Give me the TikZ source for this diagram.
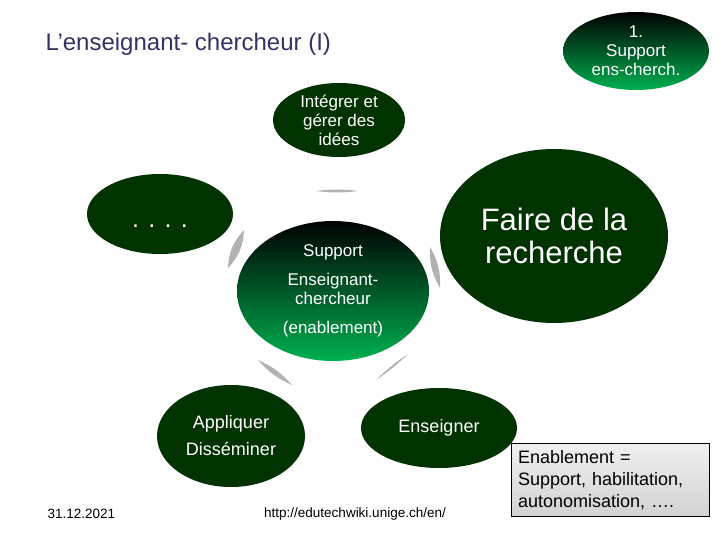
\documentclass[tikz,border=0pt]{standalone}
\usepackage{fontspec}
\setmainfont{Liberation Sans}
\usetikzlibrary{shapes.geometric}
\definecolor{darkleaf}{RGB}{0,51,0}
\definecolor{brightleaf}{RGB}{0,176,80}
\definecolor{titleblue}{RGB}{51,51,102}

\begin{document}
\begin{tikzpicture}[
  x=1pt, y=-1pt,
  blob/.style={ellipse, inner sep=0pt, align=center, text=white, font=\fontsize{17}{19}\selectfont},
  dark/.style={blob, fill=darkleaf},
  glow/.style={blob, top color=black, bottom color=brightleaf},
  conn/.style={fill=gray!60, draw=none}
]
\useasboundingbox (0,0) rectangle (720,540);

\node[anchor=west, text=titleblue, font=\fontsize{24}{28}\selectfont] (title) at (42,44) {L’enseignant- chercheur (I)};
\node[glow, minimum width=146pt, minimum height=78pt] (ensch) at (636,51) {1.\\Support\\ens-cherch.};

\node[dark, minimum width=132pt, minimum height=74pt] (idees) at (339,120) {Intégrer et\\gérer des\\idées};
\node[dark, minimum width=146pt, minimum height=80pt, text height=28pt, text depth=0pt, font=\fontsize{25}{30}\selectfont] (dots) at (160,214) {. . . .};
\node[dark, minimum width=228pt, minimum height=174pt, font=\fontsize{31}{33}\selectfont] (recherche) at (554,236) {Faire de la\\recherche};
\node[glow, minimum width=192pt, minimum height=140pt] (support) at (333,291) {Support\\[10pt]Enseignant-\\chercheur\\[10pt](enablement)};
\node[dark, minimum width=148pt, minimum height=102pt, font=\fontsize{18}{27}\selectfont] (appliquer) at (231,436) {Appliquer\\Disséminer};
\node[dark, minimum width=156pt, minimum height=80pt, font=\fontsize{18}{22}\selectfont] (enseigner) at (439,428) {Enseigner};

% gray connectors round the centre
\coordinate (t1) at (316,191); \coordinate (t2) at (358,191);
\coordinate (l1) at (244,230); \coordinate (l2) at (228,268);
\coordinate (r1) at (430,247); \coordinate (r2) at (440,288);
\coordinate (ll1) at (258,360); \coordinate (ll2) at (292,385);
\coordinate (lr1) at (408,354); \coordinate (lr2) at (376,380);
\fill[conn] (t1) to[bend left=7] (t2) to[bend left=7] (t1);
\fill[conn] (l1) to[bend left=20] (l2) to[bend left=20] (l1);
\fill[conn] (r1) to[bend left=16] (r2) to[bend left=16] (r1);
\fill[conn] (ll1) to[bend left=12] (ll2) to[bend left=12] (ll1);
\fill[conn] (lr1) to[bend left=5] (lr2) to[bend left=5] (lr1);

\node[draw=black, top color=gray!12, bottom color=gray!35, minimum width=198pt, minimum height=73pt, text width=184pt, inner xsep=7pt, align=left, font=\fontsize{18}{22}\selectfont] (note) at (610,480) {Enablement =\\Support, habilitation,\\autonomisation, ….};

\node[anchor=west, font=\fontsize{13.5}{16}\selectfont] (date) at (44,514) {31.12.2021};
\node[font=\fontsize{13.5}{16}\selectfont] (url) at (355,514) {http://edutechwiki.unige.ch/en/};
\end{tikzpicture}
\end{document}
